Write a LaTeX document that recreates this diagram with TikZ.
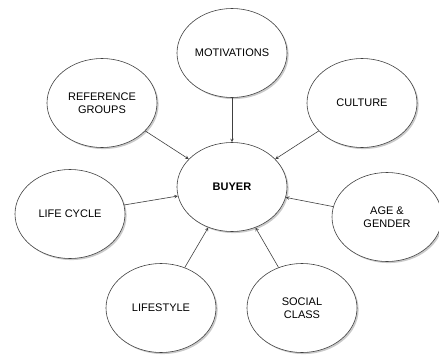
\documentclass[tikz,border=0pt]{standalone}
\usepackage{fontspec}
\setmainfont{Liberation Sans}
\usepackage{tikz}
\usetikzlibrary{shapes.geometric, arrows, shadows}

\begin{document}
\begin{tikzpicture}[
    x=1pt, y=-1pt,
    factor/.style={ellipse, draw=black!75, line width=0.6pt, fill=white, minimum width=110pt, minimum height=89pt, inner sep=0pt, align=center, font=\fontsize{11}{13}\selectfont, drop shadow={shadow xshift=1.6pt, shadow yshift=-1.6pt, fill=black!35, opacity=0.6}},
    center/.style={factor, font=\fontsize{11}{13}\selectfont\bfseries},
    arrow/.style={->, >=stealth, draw=black!75, line width=0.6pt}
]
    \useasboundingbox (0,0) rectangle (439,354);

    % Buyer in the middle
    \node[center] (buyer) at (232,187) {BUYER};

    % Influences round it
    \node[factor] (motiv) at (232,53) {MOTIVATIONS};
    \node[factor] (refgrp) at (102,103) {REFERENCE\\GROUPS};
    \node[factor] (culture) at (362,103) {CULTURE};
    \node[factor] (lifecyc) at (70,214) {LIFE CYCLE};
    \node[factor] (agegen) at (387,217) {AGE \&\\GENDER};
    \node[factor] (lifestyle) at (161,308) {LIFESTYLE};
    \node[factor] (social) at (302,308) {SOCIAL\\CLASS};

    % Arrows - influences to buyer
    \draw[arrow] (motiv) -- (buyer);
    \draw[arrow] (refgrp) -- (buyer);
    \draw[arrow] (culture) -- (buyer);
    \draw[arrow] (lifecyc) -- (buyer);
    \draw[arrow] (agegen) -- (buyer);
    \draw[arrow] (lifestyle) -- (buyer);
    \draw[arrow] (social) -- (buyer);
\end{tikzpicture}
\end{document}
